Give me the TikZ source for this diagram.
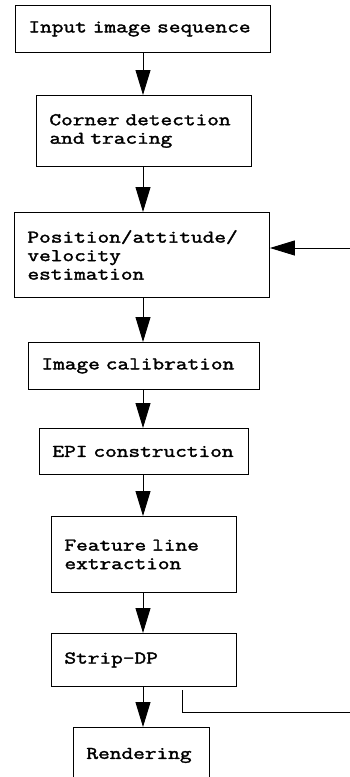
\documentclass[tikz,border=0pt]{standalone}
\usepackage{fontspec}
\newfontfamily\courfont[FakeStretch=1.27,FakeBold=2]{Latin Modern Mono}
\newcommand\stagefont{\courfont\fontsize{17.86}{18.5}\selectfont
  \hyphenpenalty=10000\relax\exhyphenpenalty=10000\relax\hbadness=10000\relax\hfuzz=50pt\relax}
\usetikzlibrary{arrows.meta}
\begin{document}
\begin{tikzpicture}[x=1pt,y=-1pt,
  stage/.style={draw, line width=0.9pt, anchor=north west, inner xsep=13pt, inner ysep=0pt,
    align=left, font=\stagefont},
  flow/.style={line width=0.9pt, -{Triangle[length=25pt,width=15pt]}},
  plain/.style={line width=0.8pt}]
\useasboundingbox (0,0) rectangle (350,777);
\clip (0,0) rectangle (350,777);

% processing stages (x, y = top-left corner; sizes in pt)
\node[stage, minimum width=255pt, minimum height=47pt, text width=229pt] (input) at (15,5) {Input image sequence};
\node[stage, minimum width=215pt, minimum height=71pt, text width=189pt] (corner) at (36,95) {Corner detection\\and tracing};
\node[stage, minimum width=255pt, minimum height=85pt, text width=229pt] (pose) at (14,212) {Position/attitude/\\velocity\\estimation};
\node[stage, minimum width=231pt, minimum height=47pt, text width=205pt] (calib) at (28,342) {Image calibration};
\node[stage, minimum width=209pt, minimum height=46pt, text width=183pt] (epi) at (39,428) {EPI construction};
\node[stage, minimum width=185pt, minimum height=76pt, text width=159pt] (feat) at (51,516) {Feature line\\extraction};
\node[stage, minimum width=185pt, minimum height=53pt, text width=159pt] (strip) at (51,633) {Strip-DP};
\node[stage, minimum width=136pt, minimum height=56pt, text width=110pt] (render) at (73,727) {Rendering};

% main flow
\draw[flow] (input.south -| 143,0) -- (corner.north -| 143,0);
\draw[flow] (corner.south -| 143,0) -- (pose.north -| 143,0);
\draw[flow] (pose.south -| 143,0) -- (calib.north -| 143,0);
\draw[flow] (calib.south -| 143,0) -- (epi.north -| 143,0);
\draw[flow] (epi.south -| 143,0) -- (feat.north -| 143,0);
\draw[flow] (feat.south -| 143,0) -- (strip.north -| 143,0);
\draw[flow] (strip.south -| 143,0) -- (render.north -| 143,0);

% feedback lines leaving and entering at the right edge
\coordinate (fbin) at (350,248);
\draw[flow] (fbin) -- (pose.east |- fbin);
\coordinate (fbout) at (350,712);
\coordinate (stripout) at (182,690);
\draw[plain] (stripout) -- (stripout |- fbout) -- (fbout);
\end{tikzpicture}
\end{document}
